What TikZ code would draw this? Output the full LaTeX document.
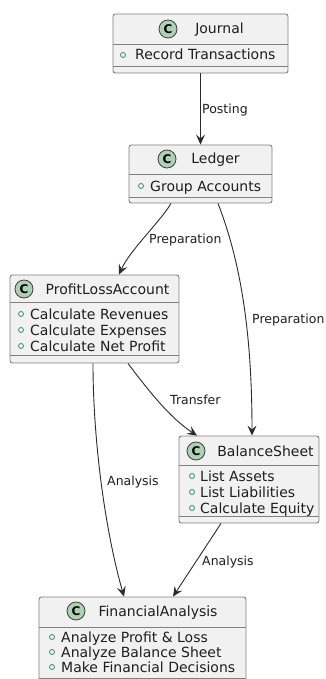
\documentclass[tikz,border=0pt]{standalone}
\usepackage{fontspec}
\setmainfont{DejaVu Sans}
\usetikzlibrary{positioning,arrows.meta,calc}
\definecolor{boxfill}{HTML}{F1F1F1}
\definecolor{boxline}{HTML}{808080}
\definecolor{spotfill}{HTML}{ADD1B2}
\definecolor{spotline}{HTML}{404040}
\definecolor{publine}{HTML}{2E8B74}
\definecolor{arrowgray}{HTML}{2B2B2B}
\definecolor{textgray}{HTML}{1E1E1E}

\begin{document}
\begin{tikzpicture}[
    x=1pt, y=-1pt,
    classbox/.style={draw=boxline, fill=boxfill, line width=0.9pt,
                     rounded corners=2.5pt, inner sep=0pt},
    sep/.style={draw=boxline, line width=0.9pt},
    spot/.style={circle, draw=spotline, fill=spotfill, line width=0.8pt,
                 minimum size=18pt, inner sep=0pt,
                 font=\bfseries\fontsize{12}{12}\selectfont},
    title/.style={inner sep=0pt, text height=10pt, text depth=0pt,
                  text=textgray, font=\fontsize{14}{16}\selectfont},
    member/.style={anchor=west, inner sep=0pt, text height=10pt,
                   text depth=0pt, text=textgray,
                   font=\fontsize{14}{16}\selectfont},
    pub/.style={draw=publine, line width=0.8pt},
    lbl/.style={anchor=west, inner sep=0pt, text height=9pt,
                text depth=0pt, text=textgray,
                font=\fontsize{12.5}{14}\selectfont},
    link/.style={draw=arrowgray, line width=0.9pt,
                 -{Stealth[length=10pt, width=9pt, inset=4pt]}},
]
\useasboundingbox (0,0) rectangle (326,679);

% class boxes
\node[classbox, minimum width=175pt, minimum height=59pt] (journal) at (200.5,43.5) {};
\node[classbox, minimum width=143pt, minimum height=58pt] (ledger) at (200.5,174) {};
\node[classbox, minimum width=169pt, minimum height=88pt] (pla) at (94.5,319) {};
\node[classbox, minimum width=140pt, minimum height=87pt] (bs) at (249,479.5) {};
\node[classbox, minimum width=207pt, minimum height=88pt] (fa) at (142.5,641) {};

% compartments
\foreach \cls/\ya/\yb in {journal/44/66, ledger/174/197, pla/302/355,
                          bs/465/516, fa/627/678}
  \draw[sep] (\cls.west |- 0,\ya) -- (\cls.east |- 0,\ya)
             (\cls.west |- 0,\yb) -- (\cls.east |- 0,\yb);

% headers
\node[spot] (journalC) at (168,29) {C};
\node[title] (journalT) at (219.5,29) {Journal};
\node[spot] (ledgerC) at (167,159) {C};
\node[title] (ledgerT) at (215.5,159) {Ledger};
\node[spot] (plaC) at (24,289) {C};
\node[title] (plaT) at (107.5,289) {ProfitLossAccount};
\node[spot] (bsC) at (196,451) {C};
\node[title] (bsT) at (265.5,451) {BalanceSheet};
\node[spot] (faC) at (76,611) {C};
\node[title] (faT) at (158,611) {FinancialAnalysis};

% members
\draw[pub] (123,55) circle (2.5pt);
\node[member] (journalM) at (135,55) {Record Transactions};
\draw[pub] (141,186) circle (2.5pt);
\node[member] (ledgerM) at (150,186) {Group Accounts};
\foreach \y/\txt [count=\i] in {314/Calculate Revenues, 330/Calculate Expenses,
                                346/Calculate Net Profit} {
  \draw[pub] (21,\y) circle (2.5pt);
  \node[member] (plaM\i) at (30,\y) {\txt};
}
\foreach \y/\txt [count=\i] in {476/List Assets, 492/List Liabilities,
                                508/Calculate Equity} {
  \draw[pub] (192,\y) circle (2.5pt);
  \node[member] (bsM\i) at (200,\y) {\txt};
}
\foreach \y/\txt [count=\i] in {637/Analyze Profit \& Loss,
                                652/Analyze Balance Sheet,
                                667/Make Financial Decisions} {
  \draw[pub] (52,\y) circle (2.5pt);
  \node[member] (faM\i) at (61,\y) {\txt};
}

% relations
\draw[link] (journal.south) -- (ledger.north);
\draw[link] ([xshift=-29.5pt]ledger.south) .. controls (160,222) and (130,250)
    .. ([xshift=24.5pt]pla.north);
\draw[link] ([xshift=17.5pt]ledger.south) .. controls (240,260) and (252,330)
    .. ([xshift=3pt]bs.north);
\draw[link] ([xshift=33.5pt]pla.south) .. controls (148,390) and (170,418)
    .. ([xshift=-52pt]bs.north);
\draw[link] ([xshift=-1.5pt]pla.south) .. controls (93,440) and (105,530)
    .. ([xshift=-18.5pt]fa.north);
\draw[link] ([xshift=-28pt]bs.south) -- ([xshift=30.5pt]fa.north);

% labels
\node[lbl] (posting) at (202,109) {Posting};
\node[lbl] (prepLeft) at (149,239) {Preparation};
\node[lbl] (prepRight) at (252,319) {Preparation};
\node[lbl] (transfer) at (170,400) {Transfer};
\node[lbl] (analysisLeft) at (107,481) {Analysis};
\node[lbl] (analysisRight) at (202,561) {Analysis};
\end{tikzpicture}
\end{document}
